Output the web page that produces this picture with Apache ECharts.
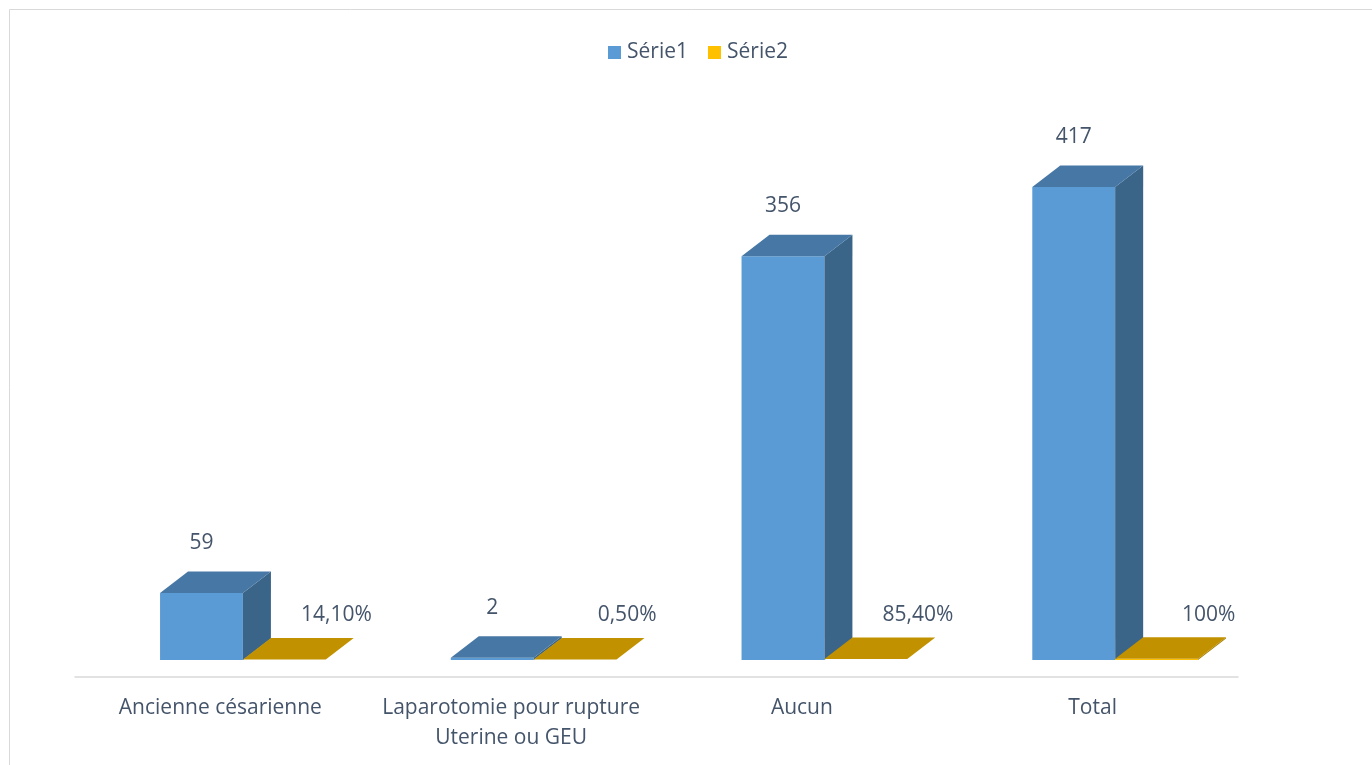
<!DOCTYPE html>
<html>
<head>
<meta charset="utf-8">
<script src="https://cdn.jsdelivr.net/npm/echarts@6/dist/echarts.min.js"></script>
<style>
html,body{margin:0;padding:0;background:#fff;}
#chart{width:1372px;height:765px;}
</style>
</head>
<body>
<div id="chart"></div>
<script>
const categories = ['Ancienne césarienne', 'Laparotomie pour rupture\nUterine ou GEU', 'Aucun', 'Total'];
const serie1 = [59, 2, 356, 417];
const serie2 = [0.141, 0.005, 0.854, 1];
const serie2Labels = ['14,10%', '0,50%', '85,40%', '100%'];
const seriesNames = ['Série1', 'Série2'];

const TEXT = '#44546A';
const FONT = 'Open Sans';
const FS = 21;
const faces = [
  { front: '#5B9BD5', top: '#4677A5', side: '#3A6488' },
  { front: '#FFC000', top: '#C29100', side: '#A77D00' }
];

function makeRender(si, labels) {
  return function (params, api) {
    const idx = api.value(0);
    const v = api.value(1);
    const base = api.coord([idx, 0]);
    const top = api.coord([idx, v]);
    const band = api.size([1, 0])[0];
    const w = band * 0.285;
    const ox = band * 0.0775, oy = -17;
    const dx = 28, dy = -21.5;
    const x0 = (si === 0 ? base[0] - w : base[0]) + ox;
    const yb = base[1] + oy;
    const yt = Math.min(top[1] + oy, yb - 0.5);
    const f = faces[si];
    const children = [];
    if (yb - yt > 1) {
      children.push({ type: 'rect', shape: { x: x0, y: yt, width: w, height: yb - yt }, style: { fill: f.front } });
      children.push({ type: 'polygon', shape: { points: [[x0 + w, yb], [x0 + w, yt], [x0 + w + dx, yt + dy], [x0 + w + dx, yb + dy]] }, style: { fill: f.side } });
    }
    children.push({ type: 'polygon', shape: { points: [[x0, yt], [x0 + w, yt], [x0 + w + dx, yt + dy], [x0 + dx, yt + dy]] }, style: { fill: f.top } });
    const txt = labels[params.dataIndex];
    const lx = si === 0 ? x0 + w / 2 : x0 + w / 2 + 52;
    const ly = si === 0 ? yt - 50 : yt - 44;
    children.push({ type: 'text', style: { text: txt, x: lx, y: ly, align: 'center', verticalAlign: 'middle', fill: TEXT, font: FS + 'px "' + FONT + '"' } });
    return { type: 'group', children: children };
  };
}

const chart = echarts.init(document.getElementById('chart'), null, { renderer: 'canvas' });
chart.setOption({
  animation: false,
  backgroundColor: '#ffffff',
  graphic: [{
    type: 'rect', shape: { x: 9.5, y: 9.5, width: 1500, height: 900 },
    style: { fill: 'none', stroke: '#D9D9D9', lineWidth: 1 }, silent: true, z: -10
  }],
  legend: {
    data: seriesNames,
    top: 42,
    left: 608,
    padding: 0,
    icon: 'rect',
    itemWidth: 13,
    itemHeight: 13,
    itemGap: 20,
    textStyle: { color: TEXT, fontFamily: FONT, fontSize: FS, padding: [0, 0, 0, 1] }
  },
  grid: { left: 75, right: 134, bottom: 88, top: 109.85 },
  xAxis: {
    type: 'category',
    data: categories,
    axisLine: { lineStyle: { color: '#D9D9D9', width: 1.5 } },
    axisTick: { show: false },
    axisLabel: { color: TEXT, fontFamily: FONT, fontSize: FS, lineHeight: 30, margin: 16, interval: 0 }
  },
  yAxis: { type: 'value', min: 0, max: 500, show: false, splitLine: { show: false } },
  series: [
    {
      name: seriesNames[0], type: 'custom', clip: false,
      itemStyle: { color: faces[0].front },
      renderItem: makeRender(0, serie1.map(String)),
      encode: { x: 0, y: 1 },
      data: serie1.map((v, i) => [i, v])
    },
    {
      name: seriesNames[1], type: 'custom', clip: false,
      itemStyle: { color: faces[1].front },
      renderItem: makeRender(1, serie2Labels),
      encode: { x: 0, y: 1 },
      data: serie2.map((v, i) => [i, v])
    }
  ]
});
</script>
</body>
</html>
